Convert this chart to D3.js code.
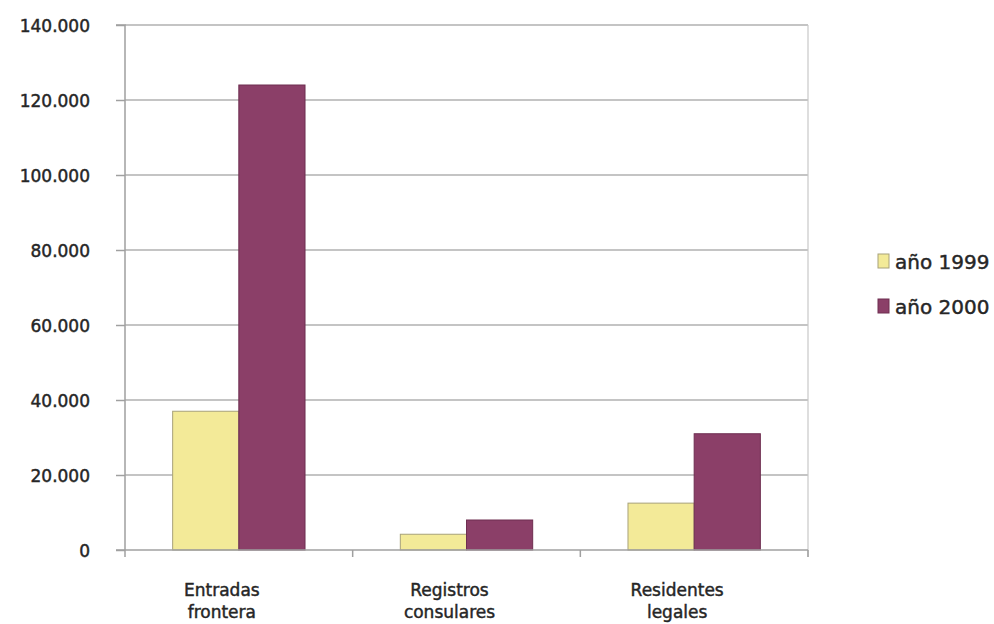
<!DOCTYPE html>
<html><head><meta charset="utf-8">
<script src="https://cdn.jsdelivr.net/npm/d3@7"></script>
<style>body{margin:0;background:#fff}svg{display:block}</style>
</head><body>
<script>
const categories = [["Entradas","frontera"],["Registros","consulares"],["Residentes","legales"]];
const seriesNames = ["año 1999","año 2000"];
const values1999 = [37000, 4200, 12500];
const values2000 = [124000, 8000, 31000];
const yTicks = [0,20000,40000,60000,80000,100000,120000,140000];
const colors = ["#f3ea98","#8b3f68"];

const W=994,H=624;
const svg=d3.select("body").append("svg").attr("width",W).attr("height",H);
const pL=125,pR=808,pT=25,pB=550;
const catKeys=categories.map(c=>c.join(" "));
const x0=d3.scaleBand().domain(catKeys).range([pL,pR]).padding(0);
const x1=d3.scaleBand().domain(seriesNames).range([0,x0.bandwidth()]).paddingInner(0).paddingOuter(0.72);
const y=d3.scaleLinear().domain([0,140000]).range([pB,pT]);
const font="'DejaVu Sans', sans-serif";
const txt=sel=>sel.attr("font-family",font).attr("fill","#262626").attr("stroke","#262626").attr("stroke-width",0.45);

// gridlines
svg.append("g").selectAll("line").data(yTicks.filter(d=>d>0)).join("line")
  .attr("x1",pL).attr("x2",pR).attr("y1",d=>y(d)).attr("y2",d=>y(d))
  .attr("stroke","#b0b0b0").attr("stroke-width",1.5);
// right border
svg.append("line").attr("x1",pR).attr("x2",pR).attr("y1",pT).attr("y2",pB+7)
  .attr("stroke","#c8c8c8").attr("stroke-width",1.2);

// y axis
const yAxis=d3.axisLeft(y).tickValues(yTicks).tickSize(9).tickPadding(9)
  .tickFormat(d=>d===0?"0":d3.format(",")(d).replace(/,/g,"."));
const ya=svg.append("g").attr("transform",`translate(${pL},0)`).call(yAxis);
ya.select(".domain").attr("stroke","#a0a0a0").attr("stroke-width",1.5).attr("d",`M-9,${pT}H0V${pB}`);
ya.selectAll(".tick line").attr("stroke","#a0a0a0").attr("stroke-width",1.5);
ya.selectAll(".tick text").call(txt).attr("font-size",17).attr("x",-35).attr("dy","0.4em");

// bars
const data=catKeys.map((c,i)=>({cat:c,vals:[values1999[i],values2000[i]]}));
const g=svg.append("g").selectAll("g").data(data).join("g")
  .attr("transform",d=>`translate(${x0(d.cat)},0)`);
g.selectAll("rect").data(d=>d.vals.map((v,j)=>({s:seriesNames[j],v,j}))).join("rect")
  .attr("x",d=>x1(d.s)).attr("width",x1.bandwidth())
  .attr("y",d=>y(d.v)).attr("height",d=>pB-y(d.v))
  .attr("fill",d=>colors[d.j]).attr("stroke",d=>d.j===0?"#a8a27a":"#6e2e50").attr("stroke-width",1);

// x axis
const xa=svg.append("g").attr("transform",`translate(0,${pB})`);
xa.append("line").attr("x1",pL-9).attr("x2",pR).attr("stroke","#a0a0a0").attr("stroke-width",1.5);
const bounds=[pL].concat(catKeys.map(c=>x0(c)+x0.bandwidth()));
xa.selectAll(".bt").data(bounds).join("line").attr("class","bt")
  .attr("x1",d=>d).attr("x2",d=>d).attr("y1",0).attr("y2",7).attr("stroke","#a0a0a0").attr("stroke-width",1.5);
const lab=svg.append("g").selectAll("text").data(categories).join("text")
  .attr("x",(d,i)=>x0(catKeys[i])+x0.bandwidth()/2-17)
  .attr("text-anchor","middle").call(txt).attr("font-size",17);
lab.selectAll("tspan").data(d=>d).join("tspan")
  .attr("x",function(){return this.parentNode.getAttribute("x");})
  .attr("y",(d,i)=>596+i*22).text(d=>d);

// legend
const lg=svg.append("g").selectAll("g").data(seriesNames).join("g")
  .attr("transform",(d,i)=>`translate(878,${254+i*45})`);
lg.append("rect").attr("width",11).attr("height",14).attr("fill",(d,i)=>colors[i])
  .attr("stroke",(d,i)=>i===0?"#a8a27a":"#6e2e50");
lg.append("text").attr("x",17).attr("y",15).call(txt).attr("font-size",20).text(d=>d);
</script>
</body></html>
